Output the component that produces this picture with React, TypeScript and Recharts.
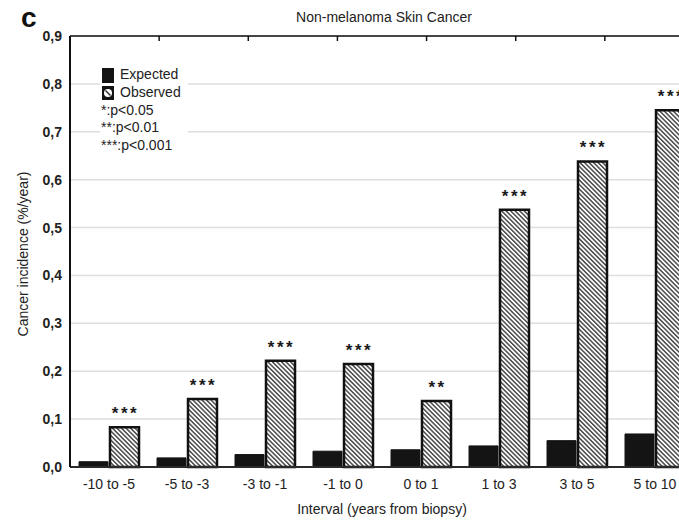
import React from 'react';
import { BarChart, Bar, XAxis, YAxis, CartesianGrid, LabelList } from 'recharts';

const categories = ['-10 to -5', '-5 to -3', '-3 to -1', '-1 to 0', '0 to 1', '1 to 3', '3 to 5', '5 to 10'];
const expected = [0.011, 0.019, 0.026, 0.033, 0.036, 0.044, 0.055, 0.069];
const observed = [0.083, 0.142, 0.222, 0.215, 0.138, 0.537, 0.638, 0.745];
const significance = ['***', '***', '***', '***', '**', '***', '***', '***'];
const yTicks = [0, 0.1, 0.2, 0.3, 0.4, 0.5, 0.6, 0.7, 0.8, 0.9];
const topTicks = [1, 2, 3, 4, 5, 6, 7, 8];
const legendSeries = ['Expected', 'Observed'];
const legendNotes = ['*:p<0.05', '**:p<0.01', '***:p<0.001'];
const panelLabel = 'c';
const chartTitle = 'Non-melanoma Skin Cancer';
const xTitle = 'Interval (years from biopsy)';
const yTitle = 'Cancer incidence (%/year)';

const data = categories.map((c, i) => ({
  cat: c,
  expected: expected[i],
  observed: observed[i],
  sig: significance[i],
}));

const FONT = '"Liberation Sans", Arial, sans-serif';
const TEXT = '#222';

const SigLabel = (props: any) => {
  const { x, y, width, value } = props;
  return (
    <text
      x={x + width / 2 + 1}
      y={y - 8}
      textAnchor="middle"
      fontFamily={FONT}
      fontSize={17}
      fontWeight="bold"
      letterSpacing={2.5}
      fill="#1a1a1a"
    >
      {value}
    </text>
  );
};

export default function App() {
  return (
    <div
      style={{
        position: 'fixed',
        left: 0,
        top: 0,
        width: 679,
        height: 520,
        overflow: 'hidden',
        background: '#fff',
        fontFamily: FONT,
      }}
    >
      <svg width={0} height={0} style={{ position: 'absolute' }}>
        <defs>
          <pattern
            id="hatch"
            patternUnits="userSpaceOnUse"
            width={3.2}
            height={3.2}
            patternTransform="rotate(-45)"
          >
            <rect x={0} y={0} width={3.2} height={3.2} fill="#fff" />
            <rect x={0} y={0} width={1.5} height={3.2} fill="#4a4a4a" />
          </pattern>
        </defs>
      </svg>
      <div style={{ position: 'absolute', left: 0, top: 0 }}>
        <BarChart
          width={700}
          height={520}
          data={data}
          margin={{ top: 36, right: 6, bottom: 0, left: 0 }}
          barCategoryGap={9}
          barGap={2}
        >
          <CartesianGrid vertical={false} stroke="#dedede" strokeWidth={1.5} />
          <XAxis
            xAxisId="top"
            orientation="top"
            type="number"
            domain={[0, 8.467]}
            ticks={topTicks}
            interval={0}
            height={6}
            mirror
            tickSize={5}
            tick={{ fill: 'none', fontSize: 1 }}
            tickLine={{ stroke: '#111', strokeWidth: 1.5 }}
            axisLine={{ stroke: '#111', strokeWidth: 1.5 }}
            allowDataOverflow
          />
          <XAxis
            xAxisId="cat"
            dataKey="cat"
            height={53}
            tickSize={6}
            tickMargin={6}
            tickLine={false}
            axisLine={{ stroke: '#2a2a2a', strokeWidth: 2 }}
            tick={{ fontFamily: FONT, fontSize: 14, fill: TEXT }}
            interval={0}
          />
          <YAxis
            width={70}
            domain={[0, 0.9]}
            ticks={yTicks}
            tickSize={5}
            tickMargin={3}
            tickLine={false}
            axisLine={{ stroke: '#111', strokeWidth: 2 }}
            tick={{ fontFamily: FONT, fontSize: 14, fill: TEXT, fontWeight: 'bold' }}
            tickFormatter={(v: number) => v.toFixed(1).replace('.', ',')}
          />
          <Bar
            xAxisId="cat"
            dataKey="expected"
            fill="#141414"
            stroke="#141414"
            strokeWidth={1}
            isAnimationActive={false}
          />
          <Bar
            xAxisId="cat"
            dataKey="observed"
            fill="url(#hatch)"
            stroke="#111"
            strokeWidth={2.5}
            isAnimationActive={false}
          >
            <LabelList dataKey="sig" content={SigLabel} />
          </Bar>
        </BarChart>
      </div>
      <svg
        width={679}
        height={520}
        style={{ position: 'absolute', left: 0, top: 0, pointerEvents: 'none' }}
      >
        <text x={21} y={27} fontFamily={FONT} fontSize={28} fontWeight="bold" fill="#111">
          {panelLabel}
        </text>
        <text x={384} y={22} textAnchor="middle" fontFamily={FONT} fontSize={14} fill={TEXT}>
          {chartTitle}
        </text>
        <text x={382} y={514} textAnchor="middle" fontFamily={FONT} fontSize={14} fill={TEXT}>
          {xTitle}
        </text>
        <text
          x={28}
          y={254}
          textAnchor="middle"
          fontFamily={FONT}
          fontSize={14}
          fill={TEXT}
          transform="rotate(-90, 28, 254)"
        >
          {yTitle}
        </text>
        <rect x={100} y={62} width={88} height={92} fill="#fff" />
        <rect x={102} y={68} width={12} height={15} fill="#141414" />
        <text x={120} y={79} fontFamily={FONT} fontSize={14} fill={TEXT}>
          {legendSeries[0]}
        </text>
        <rect x={102} y={86} width={12} height={14} fill="#141414" />
        <circle cx={108} cy={93} r={4} fill="#fff" />
        <line x1={105.5} y1={90.5} x2={110.5} y2={95.5} stroke="#333" strokeWidth={1.5} />
        <text x={120} y={97} fontFamily={FONT} fontSize={14} fill={TEXT}>
          {legendSeries[1]}
        </text>
        {legendNotes.map((n, i) => (
          <text key={n} x={101} y={115 + i * 17.3} fontFamily={FONT} fontSize={14} fill={TEXT}>
            {n}
          </text>
        ))}
      </svg>
    </div>
  );
}
